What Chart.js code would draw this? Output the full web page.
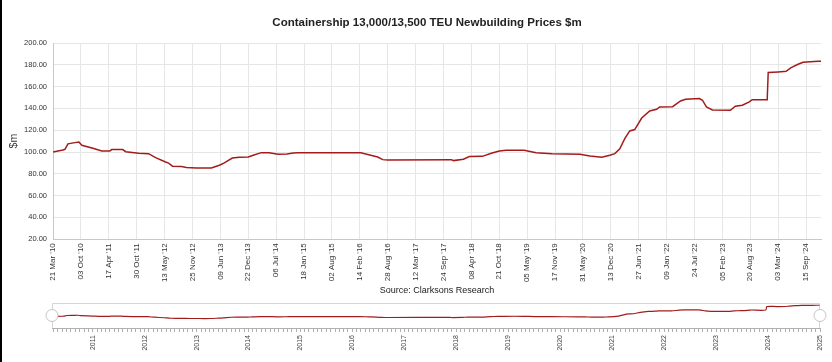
<!DOCTYPE html>
<html>
<head>
<meta charset="utf-8">
<script src="https://cdn.jsdelivr.net/npm/chart.js"></script>
<style>
body{margin:0;background:#fff;}
#wrap{position:relative;width:832px;height:362px;overflow:hidden;background:#fff;}
#main{position:absolute;left:0;top:0;}
#nav{position:absolute;left:0;top:296px;}
#edge{position:absolute;left:0;top:0;width:2px;height:362px;background:#000;}
</style>
</head>
<body>
<div id="wrap">
<canvas id="main" width="832" height="300"></canvas>
<canvas id="nav" width="832" height="66"></canvas>
<div id="edge"></div>
</div>
<script>
// weekly price series, only the turning points are kept
var priceDates = [
'2010-03-21','2010-05-30','2010-06-13','2010-07-04','2010-08-22','2010-09-19','2010-10-10','2010-12-26',
'2011-02-27','2011-04-24','2011-05-08','2011-07-24','2011-08-14','2011-11-13','2012-01-22','2012-03-11',
'2012-05-20','2012-06-10','2012-07-08','2012-09-09','2012-10-14','2012-12-23','2013-04-07','2013-06-02',
'2013-07-07','2013-09-01','2013-10-20','2013-12-22','2014-01-26','2014-03-23','2014-05-18','2014-07-20',
'2014-09-21','2014-11-02','2014-12-07','2016-02-21','2016-04-24','2016-06-19','2016-07-24','2016-08-28',
'2017-11-19','2017-12-03','2018-02-11','2018-03-25','2018-06-24','2018-08-26','2018-10-21','2018-12-09',
'2019-04-14','2019-07-07','2019-10-27','2020-05-10','2020-07-19','2020-10-11','2020-12-06','2021-01-10',
'2021-02-14','2021-03-21','2021-04-25','2021-05-30','2021-07-18','2021-09-12','2021-10-31','2021-11-21',
'2022-02-20','2022-04-17','2022-05-22','2022-08-28','2022-09-18','2022-10-16','2022-11-27','2023-04-02',
'2023-05-07','2023-06-25','2023-08-13','2023-09-03','2023-12-17','2023-12-24','2024-03-03','2024-04-28',
'2024-06-02','2024-07-21','2024-08-25','2024-12-08','2024-12-29'];
var prices = [
100.0,101.8,102.5,107.5,108.6,109.2,106.2,103.5,
101.0,101.0,102.2,102.2,100.3,98.8,98.5,94.8,
90.8,89.8,87.0,86.6,85.8,85.3,85.3,87.8,
90.0,94.5,95.1,95.4,97.0,99.4,99.4,97.9,
98.2,99.0,99.4,99.4,97.3,95.4,93.0,92.7,
93.0,92.1,93.3,95.8,96.0,98.8,100.9,101.6,
101.6,99.4,98.5,97.9,96.3,95.1,97.0,98.5,
103.0,112.3,119.3,120.6,131.2,137.6,139.2,141.3,
141.6,146.8,148.4,149.0,147.5,141.3,138.6,138.3,
142.0,142.9,145.9,148.0,148.0,172.9,173.5,174.1,
177.5,180.5,182.4,183.3,183.3];

var yMin = 20, yMax = 200, yStep = 20;
var labelStep = 196; // a date label every 28 weeks
var navStart = '2010-03-21', navEnd = '2025-01-01';
var monthNames = ['Jan','Feb','Mar','Apr','May','Jun','Jul','Aug','Sep','Oct','Nov','Dec'];
var chartTitle = 'Containership 13,000/13,500 TEU Newbuilding Prices $m';

var day0 = Date.UTC(2010, 2, 21);
function toDay(s){
  var p = s.split('-');
  return Math.round((Date.UTC(+p[0], +p[1]-1, +p[2]) - day0) / 86400000);
}
function dayDate(d){ return new Date(day0 + d*86400000); }
function dateLabel(d){
  var t = dayDate(d);
  var dd = ('0' + t.getUTCDate()).slice(-2);
  return dd + ' ' + monthNames[t.getUTCMonth()] + " '" + String(t.getUTCFullYear()).slice(-2);
}

var points = [];
for (var i = 0; i < priceDates.length; i++) points.push({x: toDay(priceDates[i]), y: prices[i]});
var lastDay = toDay(priceDates[priceDates.length-1]);

var font = 'Liberation Sans, Arial, sans-serif';
var lineRed = '#a31c1c';

// title sits a bit right of the canvas centre, as in the original
var titleText = {
  id: 'titleText',
  afterDraw: function(chart){
    var c = chart.ctx;
    c.save();
    c.font = 'bold 11.5px ' + font;
    c.fillStyle = '#222';
    c.textAlign = 'center';
    c.textBaseline = 'middle';
    c.fillText(chartTitle, 427, 23);
    c.restore();
  }
};

new Chart(document.getElementById('main'), {
  type: 'line',
  data: {datasets: [{data: points, borderColor: lineRed, borderWidth: 1.5, pointRadius: 0, tension: 0, fill: false}]},
  options: {
    responsive: false,
    animation: false,
    layout: {padding: {left: 0, right: 11, top: 43, bottom: 0}},
    plugins: {
      legend: {display: false},
      tooltip: {enabled: false},
      subtitle: {display: true, position: 'bottom', fullSize: false, text: 'Source: Clarksons Research', color: '#222',
        font: {family: font, size: 9}, padding: {top: 0, bottom: 4}}
    },
    scales: {
      x: {
        type: 'linear', min: 0, max: lastDay,
        afterBuildTicks: function(s){ s.ticks = s.ticks.filter(function(t){ return t.value % labelStep === 0; }); },
        afterFit: function(s){ s.height = 46; },
        ticks: {stepSize: labelStep, autoSkip: false, maxRotation: 90, minRotation: 90, padding: 4, color: '#333',
          font: {family: font, size: 8}, callback: function(v){ return dateLabel(v); }},
        grid: {color: '#e6e6e6', drawTicks: false},
        border: {color: '#c8c8c8'}
      },
      y: {
        min: yMin, max: yMax,
        afterFit: function(s){ s.width = 53; },
        ticks: {stepSize: yStep, padding: 6, color: '#333', font: {family: font, size: 7.5},
          callback: function(v){ return v.toFixed(2); }},
        grid: {color: '#e6e6e6', drawTicks: false},
        border: {color: '#c8c8c8'},
        title: {display: true, text: '$m', color: '#333', font: {family: font, size: 10.5}, padding: {top: 8, bottom: 0}}
      }
    }
  },
  plugins: [titleText]
});

// navigator below the chart
var navFrame = {
  id: 'navFrame',
  beforeDatasetsDraw: function(chart){
    var a = chart.chartArea, c = chart.ctx;
    c.save();
    c.strokeStyle = '#d6d6d6';
    c.lineWidth = 1;
    c.beginPath();
    c.moveTo(a.left + 0.5, a.bottom);
    c.lineTo(a.left + 0.5, a.top + 0.5);
    c.lineTo(a.right - 0.5, a.top + 0.5);
    c.lineTo(a.right - 0.5, a.bottom);
    c.stroke();
    c.restore();
  },
  afterDraw: function(chart){
    var a = chart.chartArea, c = chart.ctx;
    var cy = (a.top + a.bottom) / 2;
    [a.left, a.right].forEach(function(x){
      c.save();
      c.beginPath();
      c.arc(x, cy, 6, 0, Math.PI*2);
      c.fillStyle = '#fff';
      c.fill();
      c.strokeStyle = '#c4c4c4';
      c.lineWidth = 1;
      c.stroke();
      c.restore();
    });
  }
};

var navMax = toDay(navEnd);
new Chart(document.getElementById('nav'), {
  type: 'line',
  data: {datasets: [{data: points, borderColor: lineRed, borderWidth: 1.2, pointRadius: 0, tension: 0.3, fill: false}]},
  options: {
    responsive: false,
    animation: false,
    layout: {padding: {left: 52, right: 12, top: 7, bottom: 0}},
    plugins: {legend: {display: false}, tooltip: {enabled: false}},
    scales: {
      x: {
        type: 'linear', min: toDay(navStart), max: navMax,
        afterBuildTicks: function(s){
          var t = [];
          for (var y = 2010; y <= 2025; y++) for (var m = 0; m < 12; m++) {
            var d = Math.round((Date.UTC(y, m, 1) - day0) / 86400000);
            if (d >= 0 && d <= navMax) t.push({value: d});
          }
          s.ticks = t;
        },
        afterFit: function(s){ s.height = 34; },
        ticks: {autoSkip: false, maxRotation: 90, minRotation: 90, padding: 3, color: '#444',
          font: {family: font, size: 7},
          callback: function(v){
            var t = dayDate(v);
            return t.getUTCMonth() === 0 ? String(t.getUTCFullYear()) : '';
          }},
        grid: {drawOnChartArea: false, tickLength: 4, color: '#b0b0b0'},
        border: {color: '#b0b0b0'}
      },
      y: {display: false, min: 15, max: 200}
    }
  },
  plugins: [navFrame]
});
</script>
</body>
</html>
